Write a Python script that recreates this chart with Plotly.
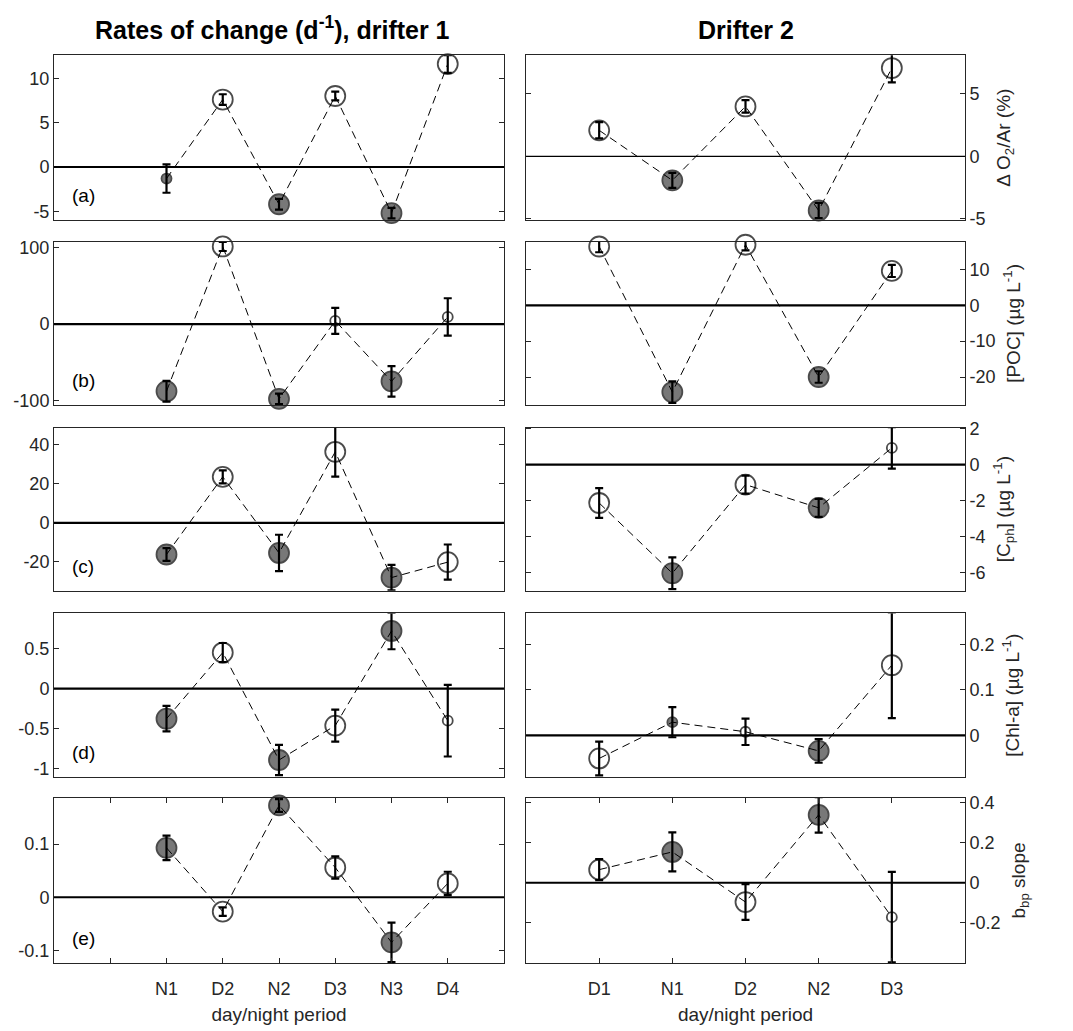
import plotly.graph_objects as go

# ---------------- data ----------------
left_periods = ["N1", "D2", "N2", "D3", "N3", "D4"]
right_periods = ["D1", "N1", "D2", "N2", "D3"]
left_ticklabels = ["", "N1", "D2", "N2", "D3", "N3", "D4"]
right_ticklabels = ["D1", "N1", "D2", "N2", "D3"]

d1_o2 = [-1.3, 7.6, -4.2, 8.0, -5.2, 11.6]
d1_o2_err = [1.6, 0.6, 0.6, 0.5, 0.6, 1.0]
d1_o2_sig = [0, 1, 1, 1, 1, 1]
d1_poc = [-88, 102, -98, 4.4, -75, 9.5]
d1_poc_err = [13.5, 6, 7, 17, 20, 24.5]
d1_poc_sig = [1, 1, 1, 0, 1, 0]
d1_cph = [-16.2, 23.5, -15.4, 36.3, -28, -20.1]
d1_cph_err = [3.3, 3.3, 9.3, 12.7, 6.5, 9]
d1_cph_sig = [1, 1, 1, 1, 1, 1]
d1_chl = [-0.378, 0.453, -0.897, -0.465, 0.725, -0.403]
d1_chl_err = [0.16, 0.12, 0.19, 0.2, 0.23, 0.45]
d1_chl_sig = [1, 1, 1, 1, 1, 0]
d1_bbp = [0.093, -0.027, 0.173, 0.056, -0.085, 0.026]
d1_bbp_err = [0.023, 0.008, 0.012, 0.021, 0.037, 0.022]
d1_bbp_sig = [1, 1, 1, 1, 1, 1]

d2_o2 = [2.09, -1.91, 4.0, -4.32, 7.07]
d2_o2_err = [0.65, 0.6, 0.5, 0.6, 1.15]
d2_o2_sig = [1, 1, 1, 1, 1]
d2_poc = [16.4, -24.2, 16.9, -20.0, 9.6]
d2_poc_err = [1.6, 3.0, 1.6, 1.6, 1.7]
d2_poc_sig = [1, 1, 1, 1, 1]
d2_cph = [-2.13, -6.03, -1.11, -2.4, 0.93]
d2_cph_err = [0.83, 0.88, 0.5, 0.5, 1.15]
d2_cph_sig = [1, 1, 1, 1, 0]
d2_chl = [-0.0505, 0.029, 0.008, -0.034, 0.154]
d2_chl_err = [0.037, 0.033, 0.029, 0.026, 0.116]
d2_chl_sig = [1, 0, 0, 1, 1]
d2_bbp = [0.065, 0.153, -0.096, 0.337, -0.171]
d2_bbp_err = [0.052, 0.097, 0.089, 0.088, 0.225]
d2_bbp_sig = [1, 1, 1, 1, 0]

panel_letters = ["(a)", "(b)", "(c)", "(d)", "(e)"]
right_titles = [
    "\u0394 O<sub>2</sub>/Ar (%)",
    "[POC] (\u00b5g L<sup>-1</sup>)",
    "[C<sub>ph</sub>] (\u00b5g L<sup>-1</sup>)",
    "[Chl-a] (\u00b5g L<sup>-1</sup>)",
    "b<sub>bp</sub> slope",
]

left_ranges = [[-6.0, 12.6], [-106, 108], [-34.7, 48.7], [-1.115, 0.947], [-0.124, 0.187]]
left_ticks = [[-5, 0, 5, 10], [-100, 0, 100], [-20, 0, 20, 40], [-1, -0.5, 0, 0.5], [-0.1, 0, 0.1]]
right_ranges = [[-5.1, 8.1], [-27.8, 17.7], [-7.0, 2.06], [-0.092, 0.268], [-0.399, 0.421]]
right_ticks = [[-5, 0, 5], [-20, -10, 0, 10], [-6, -4, -2, 0, 2], [0, 0.1, 0.2], [-0.2, 0, 0.2, 0.4]]

left_series = [(d1_o2, d1_o2_err, d1_o2_sig), (d1_poc, d1_poc_err, d1_poc_sig),
               (d1_cph, d1_cph_err, d1_cph_sig), (d1_chl, d1_chl_err, d1_chl_sig),
               (d1_bbp, d1_bbp_err, d1_bbp_sig)]
right_series = [(d2_o2, d2_o2_err, d2_o2_sig), (d2_poc, d2_poc_err, d2_poc_sig),
                (d2_cph, d2_cph_err, d2_cph_sig), (d2_chl, d2_chl_err, d2_chl_sig),
                (d2_bbp, d2_bbp_err, d2_bbp_sig)]

# ---------------- layout geometry ----------------
W, H = 1073, 1031
row_px = [(47, 215), (237, 403), (426, 592), (615, 782), (803, 971)]
left_px = (54, 504)
right_px = (526, 965)

FONT = "Liberation Sans, Arial, Helvetica, sans-serif"
AXC = "#262626"
NIGHT = "#404040"
TICKSIZE = 18
LABSIZE = 19

fig = go.Figure()
layout_axes = {}
shapes = []
annotations = []


def fmt(v):
    return "%g" % v


def add_panel(idx, xnum, ynum, periods, tickpos_labels, series, yrange, yticks, side, bottom, zero_w):
    vals, errs, sig = series
    xs = [tickpos_labels.index(p) + 1 for p in periods]
    xa = "x" if xnum == 1 else "x%d" % xnum
    ya = "y" if ynum == 1 else "y%d" % ynum
    fills = [NIGHT if p.startswith("N") else "white" for p in periods]
    sizes = [20 if s else 10 for s in sig]
    # markers
    fig.add_trace(go.Scatter(x=xs, y=vals, xaxis=xa, yaxis=ya, mode="markers",
                             marker=dict(size=sizes, color=fills, line=dict(color="black", width=1.8)),
                             cliponaxis=False, showlegend=False, hoverinfo="skip"))
    # dashed line
    fig.add_trace(go.Scatter(x=xs, y=vals, xaxis=xa, yaxis=ya, mode="lines",
                             line=dict(color="black", width=1, dash="8px,5px"),
                             showlegend=False, hoverinfo="skip"))
    # error bars
    fig.add_trace(go.Scatter(x=xs, y=vals, xaxis=xa, yaxis=ya, mode="markers",
                             marker=dict(size=1, color="rgba(0,0,0,0)"),
                             error_y=dict(type="data", array=errs, color="black", thickness=2.2, width=4),
                             showlegend=False, hoverinfo="skip"))
    # zero line
    shapes.append(dict(type="line", xref="%s domain" % xa, yref=ya, x0=0, x1=1, y0=0, y1=0,
                       line=dict(color="black", width=zero_w), layer="above"))
    # axes
    px = left_px if side == "left" else right_px
    top, bot = row_px[idx]
    xkey = "xaxis" if xnum == 1 else "xaxis%d" % xnum
    ykey = "yaxis" if ynum == 1 else "yaxis%d" % ynum
    nt = len(tickpos_labels)
    xax = dict(domain=[px[0] / W, px[1] / W], anchor=ya, range=[0, nt + 1],
               showgrid=False, zeroline=False, showline=True, linecolor=AXC, linewidth=1,
               mirror=True, tickfont=dict(family=FONT, size=TICKSIZE, color=AXC), fixedrange=True)
    if bottom:
        xax.update(tickmode="array", tickvals=list(range(1, nt + 1)), ticktext=tickpos_labels,
                   ticks="inside", ticklen=5, tickcolor=AXC, tickwidth=1, ticklabelstandoff=9,
                   title=dict(text="day/night period", font=dict(family=FONT, size=LABSIZE, color=AXC),
                              standoff=10))
        xax["mirror"] = "ticks"
    else:
        xax.update(showticklabels=False, ticks="")
    layout_axes[xkey] = xax
    yax = dict(domain=[1 - bot / H, 1 - top / H], anchor=xa, range=yrange, side=side,
               showgrid=False, zeroline=False, showline=True, linecolor=AXC, linewidth=1,
               mirror="ticks", ticks="inside", ticklen=5, tickcolor=AXC, tickwidth=1,
               tickmode="array", tickvals=yticks, ticktext=[fmt(v) for v in yticks],
               tickfont=dict(family=FONT, size=TICKSIZE, color=AXC), fixedrange=True)
    if side == "right":
        yax["title"] = dict(text=right_titles[idx], font=dict(family=FONT, size=LABSIZE, color=AXC),
                            standoff=12)
    layout_axes[ykey] = yax
    if side == "left":
        annotations.append(dict(text=panel_letters[idx], xref="%s domain" % xa, yref="%s domain" % ya,
                                x=0.035, y=0.15, xanchor="left", yanchor="middle", showarrow=False,
                                font=dict(family=FONT, size=LABSIZE, color="black")))


n = 1
for i in range(5):
    add_panel(i, n, n, left_periods, left_ticklabels, left_series[i], left_ranges[i], left_ticks[i],
              "left", i == 4, 2.2)
    n += 1
    add_panel(i, n, n, right_periods, right_ticklabels, right_series[i], right_ranges[i], right_ticks[i],
              "right", i == 4, 1.2 if i == 0 else 2.2)
    n += 1

annotations.append(dict(text="<b>Rates of change (d<sup>-1</sup>), drifter 1</b>", xref="paper", yref="paper",
                        x=(left_px[0] + left_px[1]) / 2 / W - 0.006, y=1 - 19 / H, xanchor="center",
                        yanchor="middle", showarrow=False, font=dict(family=FONT, size=25, color="black")))
annotations.append(dict(text="<b>Drifter 2</b>", xref="paper", yref="paper",
                        x=(right_px[0] + right_px[1]) / 2 / W, y=1 - 21 / H, xanchor="center", yanchor="middle",
                        showarrow=False, font=dict(family=FONT, size=25, color="black")))

fig.update_layout(width=W, height=H, margin=dict(l=0, r=0, t=0, b=0),
                  paper_bgcolor="white", plot_bgcolor="white", showlegend=False,
                  shapes=shapes, annotations=annotations, **layout_axes)

fig.write_html("out.html")
